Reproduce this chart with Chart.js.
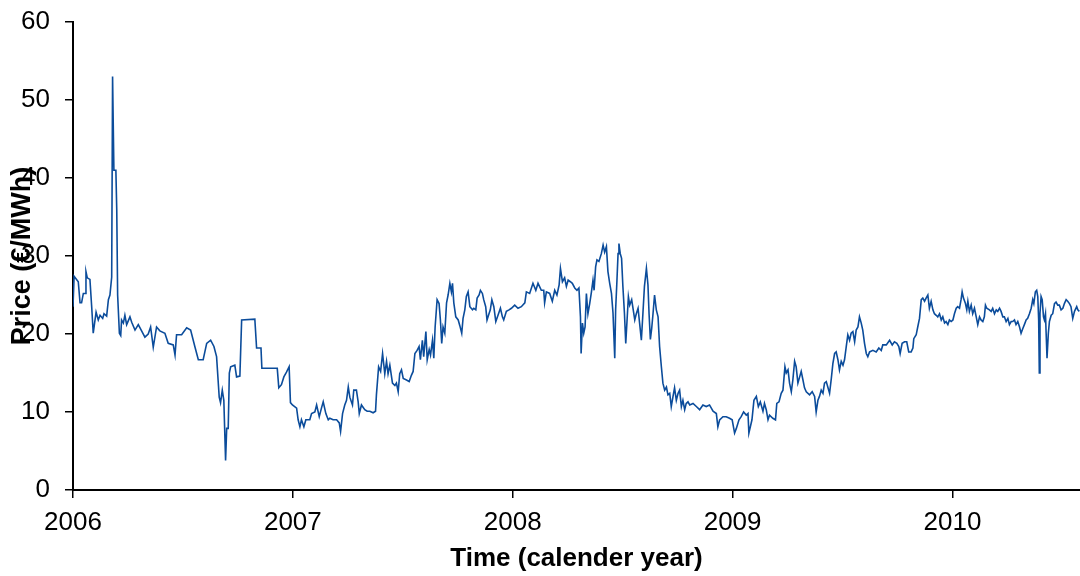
<!DOCTYPE html>
<html>
<head>
<meta charset="utf-8">
<script src="https://cdn.jsdelivr.net/npm/chart.js@4.4.0/dist/chart.umd.min.js"></script>
<style>
  body { margin: 0; background: #fff; }
  #wrap { width: 1080px; height: 576px; }
</style>
</head>
<body>
<div id="wrap"><canvas id="priceChart" width="1080" height="576"></canvas></div>
<script>
// decimal calendar year of each reading
const years = [
  2006.000, 2006.005, 2006.024, 2006.032, 2006.039, 2006.047, 2006.055, 2006.059, 2006.065, 2006.077,
  2006.085, 2006.092, 2006.105, 2006.115, 2006.123, 2006.135, 2006.141, 2006.153, 2006.161, 2006.168,
  2006.176, 2006.180, 2006.186, 2006.195, 2006.199, 2006.203, 2006.211, 2006.217, 2006.221, 2006.229,
  2006.236, 2006.244, 2006.259, 2006.267, 2006.282, 2006.297, 2006.312, 2006.327, 2006.342, 2006.353,
  2006.365, 2006.380, 2006.395, 2006.418, 2006.433, 2006.456, 2006.464, 2006.471, 2006.494, 2006.517,
  2006.535, 2006.555, 2006.570, 2006.592, 2006.608, 2006.626, 2006.641, 2006.653, 2006.665, 2006.671,
  2006.679, 2006.686, 2006.694, 2006.699, 2006.706, 2006.711, 2006.717, 2006.736, 2006.744, 2006.759,
  2006.767, 2006.827, 2006.835, 2006.855, 2006.859, 2006.929, 2006.936, 2006.948, 2006.959, 2006.971,
  2006.983, 2006.989, 2006.998,
  2007.017, 2007.024, 2007.032, 2007.039, 2007.050, 2007.059, 2007.077, 2007.085, 2007.100, 2007.108,
  2007.120, 2007.130, 2007.138, 2007.150, 2007.161, 2007.168, 2007.183, 2007.199, 2007.211, 2007.217,
  2007.226, 2007.236, 2007.244, 2007.252, 2007.259, 2007.271, 2007.277, 2007.289, 2007.297, 2007.302,
  2007.312, 2007.327, 2007.338, 2007.350, 2007.365, 2007.376, 2007.380, 2007.390, 2007.399, 2007.408,
  2007.418, 2007.426, 2007.433, 2007.441, 2007.453, 2007.464, 2007.471, 2007.479, 2007.486, 2007.494,
  2007.502, 2007.517, 2007.529, 2007.539, 2007.547, 2007.555, 2007.565, 2007.574, 2007.580, 2007.589,
  2007.595, 2007.605, 2007.611, 2007.620, 2007.626, 2007.635, 2007.641, 2007.647, 2007.656, 2007.665,
  2007.671, 2007.677, 2007.683, 2007.691, 2007.699, 2007.706, 2007.714, 2007.721, 2007.726, 2007.732,
  2007.741, 2007.752, 2007.759, 2007.768, 2007.774, 2007.782, 2007.789, 2007.797, 2007.805, 2007.817,
  2007.823, 2007.832, 2007.838, 2007.847, 2007.853, 2007.862, 2007.868, 2007.877, 2007.883, 2007.892,
  2007.898, 2007.905, 2007.914, 2007.923, 2007.933, 2007.944, 2007.953, 2007.959, 2007.971, 2007.983,
  2007.994,
  2008.009, 2008.024, 2008.039, 2008.055, 2008.062, 2008.077, 2008.092, 2008.105, 2008.115, 2008.130,
  2008.141, 2008.145, 2008.153, 2008.168, 2008.180, 2008.191, 2008.201, 2008.211, 2008.217, 2008.226,
  2008.236, 2008.244, 2008.252, 2008.262, 2008.271, 2008.282, 2008.292, 2008.301, 2008.308, 2008.311,
  2008.317, 2008.323, 2008.329, 2008.335, 2008.342, 2008.350, 2008.358, 2008.365, 2008.370, 2008.377,
  2008.383, 2008.392, 2008.403, 2008.411, 2008.418, 2008.426, 2008.433, 2008.441, 2008.449, 2008.456,
  2008.464, 2008.468, 2008.474, 2008.479, 2008.483, 2008.489, 2008.495, 2008.501, 2008.508, 2008.514,
  2008.520, 2008.526, 2008.532, 2008.541, 2008.547, 2008.555, 2008.562, 2008.570, 2008.577, 2008.585,
  2008.592, 2008.599, 2008.608, 2008.615, 2008.620, 2008.626, 2008.632, 2008.638, 2008.645, 2008.653,
  2008.661, 2008.668, 2008.676, 2008.683, 2008.691, 2008.699, 2008.706, 2008.714, 2008.721, 2008.729,
  2008.736, 2008.744, 2008.752, 2008.759, 2008.767, 2008.774, 2008.782, 2008.789, 2008.797, 2008.805,
  2008.820, 2008.835, 2008.850, 2008.865, 2008.880, 2008.895, 2008.911, 2008.926, 2008.933, 2008.941,
  2008.956, 2008.971, 2008.986, 2008.998,
  2009.009, 2009.017, 2009.029, 2009.039, 2009.050, 2009.062, 2009.070, 2009.074, 2009.088, 2009.097,
  2009.108, 2009.117, 2009.126, 2009.138, 2009.145, 2009.153, 2009.161, 2009.168, 2009.183, 2009.195,
  2009.201, 2009.211, 2009.221, 2009.229, 2009.238, 2009.244, 2009.252, 2009.259, 2009.267, 2009.274,
  2009.282, 2009.289, 2009.297, 2009.305, 2009.312, 2009.320, 2009.327, 2009.335, 2009.350, 2009.362,
  2009.373, 2009.380, 2009.388, 2009.395, 2009.403, 2009.411, 2009.418, 2009.426, 2009.433, 2009.441,
  2009.449, 2009.456, 2009.464, 2009.471, 2009.479, 2009.486, 2009.494, 2009.502, 2009.509, 2009.517,
  2009.524, 2009.532, 2009.539, 2009.547, 2009.555, 2009.562, 2009.570, 2009.577, 2009.585, 2009.592,
  2009.600, 2009.608, 2009.615, 2009.623, 2009.638, 2009.653, 2009.665, 2009.676, 2009.683, 2009.699,
  2009.714, 2009.726, 2009.736, 2009.747, 2009.756, 2009.762, 2009.771, 2009.782, 2009.792, 2009.801,
  2009.812, 2009.820, 2009.824, 2009.835, 2009.842, 2009.850, 2009.858, 2009.865, 2009.873, 2009.880,
  2009.888, 2009.895, 2009.903, 2009.911, 2009.918, 2009.926, 2009.933, 2009.941, 2009.949, 2009.956,
  2009.964, 2009.971, 2009.979, 2009.986, 2009.994,
  2010.002, 2010.009, 2010.017, 2010.024, 2010.032, 2010.039, 2010.044, 2010.050, 2010.059, 2010.065,
  2010.070, 2010.077, 2010.085, 2010.092, 2010.100, 2010.108, 2010.115, 2010.123, 2010.130, 2010.138,
  2010.145, 2010.150, 2010.156, 2010.168, 2010.176, 2010.183, 2010.191, 2010.199, 2010.206, 2010.214,
  2010.221, 2010.229, 2010.236, 2010.244, 2010.252, 2010.259, 2010.267, 2010.274, 2010.282, 2010.289,
  2010.297, 2010.305, 2010.312, 2010.320, 2010.327, 2010.335, 2010.342, 2010.350, 2010.358, 2010.365,
  2010.370, 2010.377, 2010.383, 2010.388, 2010.392, 2010.395, 2010.398, 2010.403, 2010.408, 2010.414,
  2010.418, 2010.423, 2010.426, 2010.430, 2010.436, 2010.441, 2010.449, 2010.456, 2010.464, 2010.471,
  2010.479, 2010.486, 2010.494, 2010.502, 2010.509, 2010.517, 2010.524, 2010.532, 2010.539, 2010.547,
  2010.555, 2010.565, 2010.570, 2010.577
];

// price in €/MWh at each reading
const prices = [
  23.5, 27.4, 26.7, 24.0, 24.0, 25.2, 25.2, 28.0, 27.2, 27.0,
  23.5, 20.1, 22.8, 21.8, 22.4, 22.0, 22.6, 22.3, 24.4, 25.0,
  27.3, 53.0, 41.0, 41.0, 35.9, 25.0, 20.1, 19.8, 21.8, 21.4,
  22.4, 21.2, 22.2, 21.5, 20.5, 21.2, 20.4, 19.6, 20.0, 20.9,
  18.3, 20.9, 20.4, 20.1, 18.8, 18.6, 17.3, 19.9, 19.9, 20.8,
  20.5, 18.3, 16.7, 16.7, 18.8, 19.2, 18.4, 17.1, 11.9, 11.2,
  12.8, 11.5, 3.8, 7.9, 7.9, 15.0, 15.8, 16.0, 14.5, 14.6,
  21.8, 21.9, 18.2, 18.2, 15.6, 15.6, 13.1, 13.5, 14.5, 15.1,
  15.8, 11.2, 10.9,
  10.5, 9.0, 8.1, 9.0, 8.1, 9.0, 9.0, 9.8, 10.0, 10.9,
  9.4, 10.5, 11.3, 9.8, 9.0, 9.2, 9.0, 9.0, 8.6, 7.5,
  9.8, 10.9, 11.5, 13.2, 11.9, 10.9, 12.8, 12.8, 11.3, 9.8,
  10.9, 10.3, 10.1, 10.1, 9.9, 10.1, 12.2, 15.8, 15.2, 17.5,
  14.9, 16.5, 14.9, 16.0, 13.7, 13.4, 13.7, 12.6, 14.9, 15.4,
  14.3, 14.1, 13.9, 14.7, 15.2, 17.5, 17.9, 18.4, 16.7, 19.2,
  17.1, 20.3, 16.7, 18.0, 17.3, 19.2, 16.9, 20.9, 24.4, 23.9,
  21.8, 18.8, 20.9, 20.1, 24.0, 25.0, 26.5, 25.4, 26.5, 24.0,
  22.2, 21.8, 21.1, 20.1, 22.0, 23.1, 24.8, 25.4, 23.5, 23.1,
  23.3, 23.1, 24.6, 25.0, 25.6, 25.2, 24.4, 23.5, 21.8, 22.6,
  23.1, 24.4, 23.5, 21.6, 22.4, 23.3, 22.2, 21.8, 22.9, 23.1,
  23.3,
  23.7, 23.3, 23.5, 24.0, 25.4, 25.2, 26.5, 25.6, 26.5, 25.6,
  25.6, 24.0, 25.4, 25.2, 24.2, 25.6, 25.0, 26.3, 28.4, 26.7,
  27.2, 26.1, 26.9, 26.7, 26.5, 25.9, 25.6, 25.9, 22.2, 17.5,
  21.4, 20.1, 20.9, 25.2, 22.6, 23.9, 25.4, 26.9, 25.6, 28.6,
  29.5, 29.3, 30.3, 31.4, 30.5, 31.2, 28.0, 26.5, 25.2, 22.7,
  16.9, 23.1, 26.9, 30.3, 31.6, 30.3, 29.7, 26.1, 22.7, 18.8,
  21.8, 24.8, 23.7, 24.4, 23.3, 21.8, 22.6, 23.3, 21.4, 19.2,
  22.6, 26.1, 28.4, 26.3, 22.6, 19.3, 20.7, 22.6, 25.0, 23.1,
  22.2, 18.4, 15.8, 13.7, 12.8, 13.2, 12.2, 12.4, 10.7, 12.0,
  13.1, 11.5, 12.4, 12.8, 10.7, 11.5, 10.3, 11.1, 11.3, 10.9,
  11.1, 10.7, 10.3, 10.9, 10.7, 10.9, 10.1, 9.8, 8.1, 9.0,
  9.4, 9.4, 9.2, 9.0,
  7.3, 7.9, 9.0, 9.4, 10.0, 9.6, 9.8, 7.3, 9.0, 11.5,
  12.0, 10.7, 11.3, 10.1, 11.1, 10.3, 9.0, 9.6, 9.2, 9.0,
  11.1, 11.3, 12.4, 12.8, 15.8, 15.0, 15.4, 13.7, 12.6, 14.1,
  16.5, 15.8, 13.7, 14.5, 15.2, 14.1, 13.1, 12.6, 12.2, 12.6,
  12.0, 10.0, 11.5, 12.0, 12.8, 12.4, 13.7, 13.9, 13.2, 12.4,
  14.3, 16.2, 17.5, 17.7, 16.7, 15.4, 16.5, 16.0, 16.7, 18.4,
  19.9, 19.2, 20.1, 20.3, 19.0, 20.5, 20.9, 22.2, 21.4, 20.5,
  18.8, 17.5, 17.1, 17.7, 17.9, 17.7, 18.2, 17.9, 18.6, 18.6,
  19.2, 18.6, 19.0, 18.8, 18.4, 17.5, 18.8, 19.0, 19.0, 17.7,
  17.7, 18.2, 19.4, 19.9, 20.9, 22.0, 24.4, 24.6, 24.2, 24.6,
  25.0, 23.3, 24.2, 23.1, 22.6, 22.4, 22.2, 22.6, 21.8, 22.2,
  21.4, 21.6, 21.2, 21.8, 21.6,
  21.8, 22.6, 23.3, 23.5, 23.3, 24.4, 25.4, 24.6, 23.9, 23.1,
  24.2, 22.9, 23.7, 22.6, 23.3, 22.2, 21.2, 22.2, 21.8, 21.6,
  22.2, 23.7, 23.3, 23.1, 22.9, 23.3, 22.6, 23.1, 22.9, 23.3,
  22.9, 22.2, 22.2, 21.6, 22.0, 21.2, 21.6, 21.6, 21.8, 21.2,
  21.6, 20.9, 20.1, 20.7, 21.2, 21.8, 22.0, 22.6, 23.3, 24.4,
  23.9, 25.4, 25.6, 24.8, 21.8, 15.0, 22.6, 24.8, 24.4, 22.2,
  21.8, 22.6, 20.1, 16.9, 20.1, 21.6, 22.4, 22.6, 23.9, 24.1,
  23.7, 23.7, 23.1, 23.3, 23.9, 24.4, 24.2, 23.9, 23.5, 22.0,
  22.9, 23.5, 23.1, 22.9
];

const yearTicks = [2006, 2007, 2008, 2009, 2010];
const priceTicks = [0, 10, 20, 30, 40, 50, 60];
const xMin = 2006;
const xMax = 2010.58;

const points = years.map((yr, i) => ({ x: yr, y: prices[i] }));

const fontFamily = "'Liberation Sans', Arial, Helvetica, sans-serif";

new Chart(document.getElementById("priceChart"), {
  type: "line",
  data: {
    datasets: [{
      data: points,
      borderColor: "#0b4c9b",
      borderWidth: 1.6,
      pointRadius: 0,
      tension: 0,
      fill: false
    }]
  },
  options: {
    responsive: false,
    animation: false,
    layout: { padding: { top: 22, right: 0, left: 0, bottom: 0 } },
    plugins: {
      legend: { display: false },
      tooltip: { enabled: false }
    },
    scales: {
      x: {
        type: "linear",
        min: xMin,
        max: xMax,
        afterFit: function (scale) { scale.height = 86; },
        afterBuildTicks: function (scale) {
          scale.ticks = yearTicks.map(v => ({ value: v }));
        },
        grid: { drawOnChartArea: false, drawTicks: true, tickLength: 8, color: "#000", lineWidth: 1.5 },
        border: { color: "#000", width: 2 },
        ticks: {
          color: "#000",
          font: { family: fontFamily, size: 26 },
          padding: 9,
          maxRotation: 0,
          autoSkip: false,
          includeBounds: false,
          callback: function (value) { return String(value); }
        },
        title: {
          display: true,
          text: "Time (calender year)",
          color: "#000",
          font: { family: fontFamily, size: 26, weight: "bold" },
          padding: { top: 0, bottom: 2 }
        }
      },
      y: {
        min: 0,
        max: 60,
        afterFit: function (scale) {
          // keep the plot edge where the reference has it
          scale.width = 73;
          scale.paddingTop = 0;
          scale.paddingBottom = 0;
        },
        afterBuildTicks: function (scale) {
          scale.ticks = priceTicks.map(v => ({ value: v }));
        },
        grid: { drawOnChartArea: false, drawTicks: true, tickLength: 8, color: "#000", lineWidth: 1.5 },
        border: { color: "#000", width: 2 },
        ticks: {
          color: "#000",
          font: { family: fontFamily, size: 26 },
          padding: 15
        },
        title: {
          display: true,
          text: "Price (€/MWh)",
          color: "#000",
          font: { family: fontFamily, size: 27, weight: "bold" },
          padding: { top: 6, bottom: 0 }
        }
      }
    }
  }
});
</script>
</body>
</html>
